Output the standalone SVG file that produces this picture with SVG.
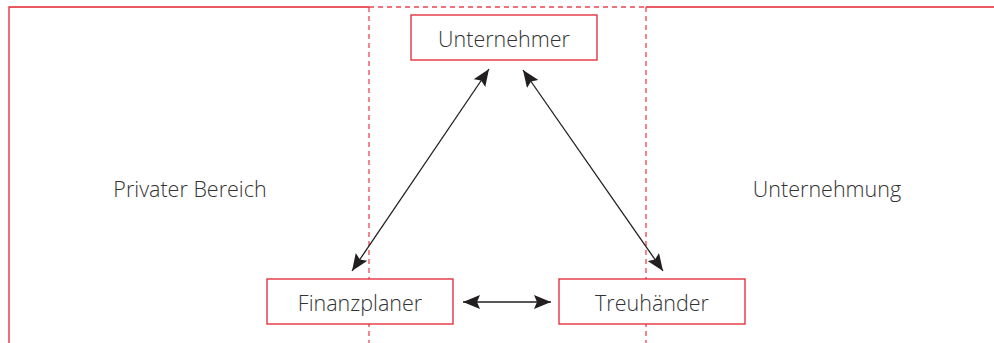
<svg xmlns="http://www.w3.org/2000/svg" width="994" height="343" viewBox="0 0 994 343">
<style>
.frame{fill:none;stroke:#e4232f;stroke-width:1.3}
.dash{fill:none;stroke:#ee4451;stroke-width:1.3;stroke-dasharray:5 4}
.box{fill:#fff;stroke:#e4232f;stroke-width:1.3}
.lbl{font-family:"Open Sans","Noto Sans",sans-serif;font-weight:300;font-size:21.5px;fill:#333;text-anchor:middle}
.con{fill:none;stroke:#231f20;stroke-width:1.3}
</style>
<defs>
<marker id="ah" viewBox="0 0 17 14" refX="17" refY="7" markerWidth="17" markerHeight="14" markerUnits="userSpaceOnUse" orient="auto-start-reverse">
<path d="M0,0 L17,7 L0,14 L3,7 Z" fill="#231f20"/>
</marker>
</defs>
<g id="frame">
<path class="frame" d="M9,343 V7 H369"/>
<path class="frame" d="M646,7 H994"/>
<path class="dash" d="M369,7 H646"/>
<path class="dash" d="M369,7 V343"/>
<path class="dash" d="M646,7 V343"/>
</g>
<g id="privater-bereich"><text class="lbl" x="190" y="196.5">Privater Bereich</text></g>
<g id="unternehmung"><text class="lbl" x="827" y="196.5">Unternehmung</text></g>
<g id="connectors">
<line class="con" x1="352" y1="271" x2="489" y2="69" marker-start="url(#ah)" marker-end="url(#ah)"/>
<line class="con" x1="663" y1="271" x2="523" y2="70" marker-start="url(#ah)" marker-end="url(#ah)"/>
<line class="con" x1="463" y1="302" x2="551" y2="302" marker-start="url(#ah)" marker-end="url(#ah)"/>
</g>
<g id="unternehmer">
<rect class="box" x="411" y="15" width="186" height="45"/>
<text class="lbl" x="504" y="46.5">Unternehmer</text>
</g>
<g id="finanzplaner">
<rect class="box" x="267" y="279" width="186" height="45"/>
<text class="lbl" x="360" y="310.5">Finanzplaner</text>
</g>
<g id="treuhaender">
<rect class="box" x="559" y="279" width="186" height="45"/>
<text class="lbl" x="652" y="310.5">Treuhänder</text>
</g>
</svg>
